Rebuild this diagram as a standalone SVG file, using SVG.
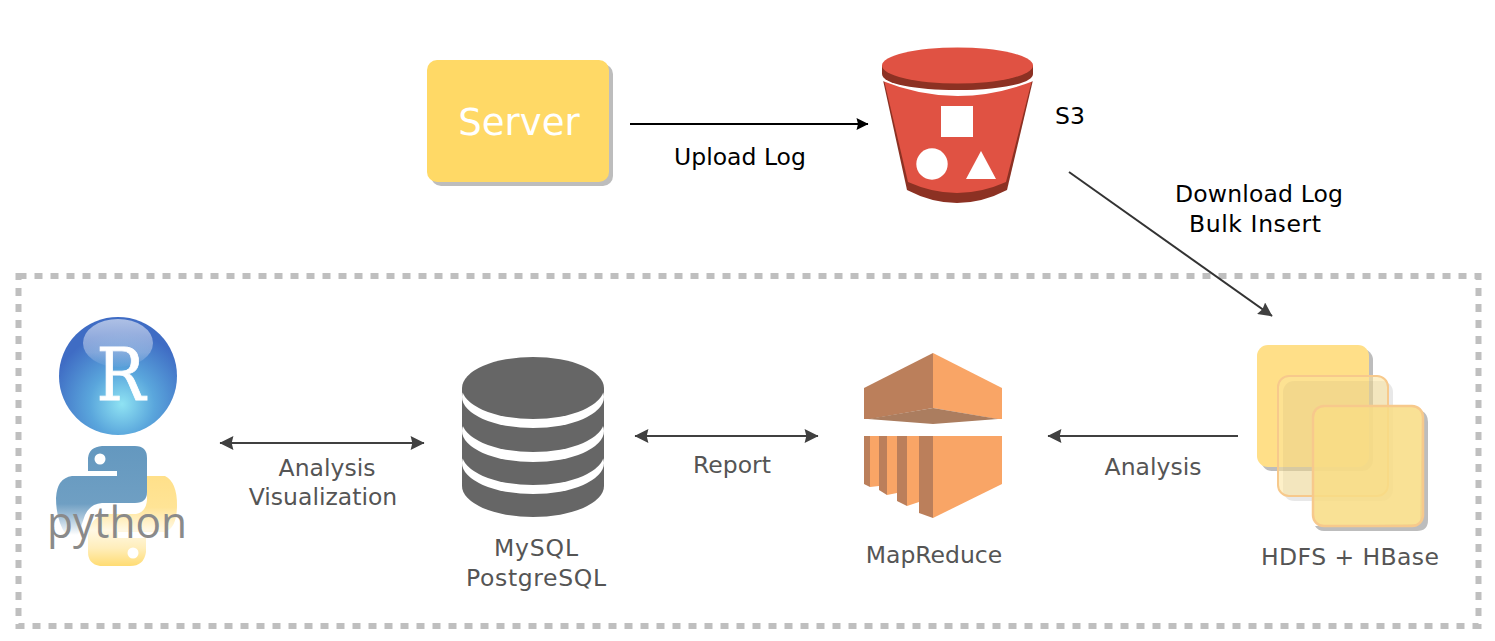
<svg xmlns="http://www.w3.org/2000/svg" width="1495" height="641" viewBox="0 0 1495 641">
<style>
text{font-family:"DejaVu Sans",Verdana,sans-serif;font-size:23.500px;text-anchor:middle}
.k{fill:#000}
.g{fill:#555}
.c{fill:none;stroke-width:2}
.db{fill:#666}
.w{fill:#fff}
.ol{fill:#f9a566}
.od{fill:#bb7f5b}
</style>
<defs>
<marker id="ak" viewBox="0 0 12 12" refX="11.500" refY="6" markerWidth="13" markerHeight="12" markerUnits="userSpaceOnUse" orient="auto-start-reverse"><path d="M0 0L12 6L0 12L1.500 6z" fill="#000"/></marker>
<marker id="ag" viewBox="0 0 12 12" refX="11.500" refY="6" markerWidth="15" markerHeight="14" markerUnits="userSpaceOnUse" orient="auto-start-reverse"><path d="M0 0L12 6L0 12L1.500 6z" fill="#404040"/></marker>
<radialGradient id="rb" gradientUnits="userSpaceOnUse" cx="122" cy="404" r="72"><stop offset="0" stop-color="#8fe3f3"/><stop offset=".45" stop-color="#5aa6dc"/><stop offset="1" stop-color="#3f6cc4"/></radialGradient>
<linearGradient id="rg" x1="0" y1="0" x2="0" y2="1"><stop offset="0" stop-color="#d3dcf0" stop-opacity=".75"/><stop offset=".7" stop-color="#c8d6ee" stop-opacity=".45"/><stop offset="1" stop-color="#c8d6ee" stop-opacity=".05"/></linearGradient>
<linearGradient id="pb" gradientUnits="userSpaceOnUse" x1="0" y1="446" x2="0" y2="535"><stop offset="0" stop-color="#6498bf"/><stop offset=".65" stop-color="#6f9fc3"/><stop offset=".8" stop-color="#a7c4da"/><stop offset="1" stop-color="#fff"/></linearGradient>
<linearGradient id="py" gradientUnits="userSpaceOnUse" x1="0" y1="476" x2="0" y2="566"><stop offset="0" stop-color="#ffe08a"/><stop offset=".35" stop-color="#ffe496"/><stop offset=".6" stop-color="#fff8e4"/><stop offset=".8" stop-color="#ffeebb"/><stop offset="1" stop-color="#ffdc73"/></linearGradient>
</defs>
<g id="boundary"><rect x="18.500" y="276" width="1460" height="350" fill="none" stroke="#bfbfbf" stroke-width="6" stroke-dasharray="8 8"/></g>
<g id="connectors">
<path class="c" stroke="#000" d="M630 124H868" marker-end="url(#ak)"/>
<path class="c" stroke="#333" d="M1069 172L1272 316" marker-end="url(#ag)"/>
<path class="c" stroke="#404040" d="M220 443H424" marker-start="url(#ag)" marker-end="url(#ag)"/>
<path class="c" stroke="#404040" d="M635 436H818" marker-start="url(#ag)" marker-end="url(#ag)"/>
<path class="c" stroke="#404040" d="M1238 436H1048" marker-end="url(#ag)"/>
</g>
<g id="server">
<rect x="431" y="64" width="182" height="122" rx="10" fill="#bdbdbd"/>
<rect x="427" y="60" width="182" height="122" rx="10" fill="#ffd966"/>
<text x="519" y="135" style="font-size:37px" fill="#fff">Server</text>
</g>
<g id="s3">
<path d="M883 80L907 190Q957 216 1007 190L1033 80z" fill="#8c3123"/>
<path d="M884 80L908 182Q957 204 1006 182L1032 80z" fill="#e05243"/>
<path d="M883 78Q957 108 1033 78" fill="none" stroke="#fff" stroke-width="6"/>
<path d="M882 65V74C882 84 916 90 957 90S1033 84 1033 74V65z" fill="#8c3123"/>
<ellipse cx="957.500" cy="65.500" rx="75.500" ry="18" fill="#e05243"/>
<rect class="w" x="941" y="106" width="32" height="31"/>
<circle class="w" cx="932" cy="164" r="15.700"/>
<path class="w" d="M981 151L966 179H996z"/>
</g>
<g id="s3-label"><text class="k" x="1070" y="124">S3</text></g>
<g id="hdfs">
<rect x="1261" y="349" width="112" height="122" rx="11" fill="#bdbdbd"/>
<rect x="1257" y="345" width="112" height="122" rx="11" fill="#ffdf88"/>
<rect x="1283" y="381" width="110" height="120" rx="11" fill="#000" fill-opacity=".09"/>
<rect x="1278" y="376" width="110" height="120" rx="11" fill="#fbe39a" fill-opacity=".55" stroke="#f7c98c" stroke-width="2"/>
<path d="M1422 411Q1428 414 1428 422V520Q1428 531 1417 531H1324Q1318 531 1315 526L1420 524z" fill="#bdbdbd"/>
<rect x="1313" y="406" width="110" height="120" rx="11" fill="#f8dc85" fill-opacity=".87" stroke="#f7c98c" stroke-width="2.500"/>
</g>
<g id="mapreduce">
<path class="od" d="M864 388L933 353V408L870 419H864z"/>
<path class="ol" d="M933 353L1002 388V419H997L933 408z"/>
<path d="M868 419L933 408L998 419L933 424z" fill="#ab7d5f"/>
<path class="ol" d="M933 436H1002V484L933 518z"/>
<path class="od" d="M919 436H933V518L919 513z"/>
<path class="ol" d="M870 436H879V486L870 487zM887 436H897V493L887 495zM907 436H919V502L907 506z"/>
<path class="od" d="M864 436H870V487L864 484zM879 436H887V495L879 490zM897 436H907V506L897 501z"/>
</g>
<g id="mapreduce-label"><text class="g" x="934" y="563">MapReduce</text></g>
<g id="database">
<rect class="db" x="462" y="420" width="142" height="66"/><ellipse class="db" cx="533" cy="486" rx="71" ry="31"/>
<ellipse class="w" cx="533" cy="463" rx="71" ry="31"/>
<rect class="db" x="462" y="400" width="142" height="54"/><ellipse class="db" cx="533" cy="454" rx="71" ry="31"/>
<ellipse class="w" cx="533" cy="431" rx="71" ry="31"/>
<rect class="db" x="462" y="388" width="142" height="33"/><ellipse class="db" cx="533" cy="421" rx="71" ry="31"/>
<ellipse class="w" cx="533" cy="397" rx="71" ry="31"/>
<ellipse class="db" cx="533" cy="388" rx="71" ry="31"/>
</g>
<g id="database-label"><text class="g" x="536" y="556" textLength="84">MySQL</text><text class="g" x="536" y="586" textLength="140">PostgreSQL</text></g>
<g id="r">
<circle cx="118" cy="376" r="59" fill="url(#rb)"/>
<ellipse cx="118" cy="343" rx="35" ry="24" fill="url(#rg)"/>
<text x="121" y="400" textLength="49" lengthAdjust="spacingAndGlyphs" stroke="#fff" stroke-width=".8" style="font-family:'DejaVu Serif',serif;font-size:72px" fill="#fff">R</text>
</g>
<g id="python">
<path d="M102 446H135Q147 446 147 458V492Q147 503 135 503H102Q90 504 85 515L78 535H66Q56 520 56 498Q57 478 72 476H117V471H88V458Q89 447 102 446z" fill="url(#pb)"/>
<path d="M147 476H165Q177 482 177 505Q177 528 165 532H118V538H146V552Q144 566 130 566H100Q88 564 88 552V535Q90 518 105 514H136Q146 512 147 500z" fill="url(#py)"/>
<circle class="w" cx="100" cy="459" r="5.500"/>
<circle class="w" cx="133" cy="553" r="5.500"/>
<text x="117" y="538" textLength="140" lengthAdjust="spacingAndGlyphs" style="font-family:'Open Sans',sans-serif;font-size:44px" fill="#8a8a8a">python</text>
</g>
<g id="labels">
<text class="k" x="740" y="165">Upload Log</text>
<text class="k" x="1259" y="202" textLength="168">Download Log</text>
<text class="k" x="1255" y="232" textLength="132">Bulk Insert</text>
<text class="g" x="327" y="476">Analysis</text>
<text class="g" x="323" y="505">Visualization</text>
<text class="g" x="732" y="473">Report</text>
<text class="g" x="1153" y="475">Analysis</text>
<text class="g" x="1350" y="565" textLength="178">HDFS + HBase</text>
</g>
</svg>
